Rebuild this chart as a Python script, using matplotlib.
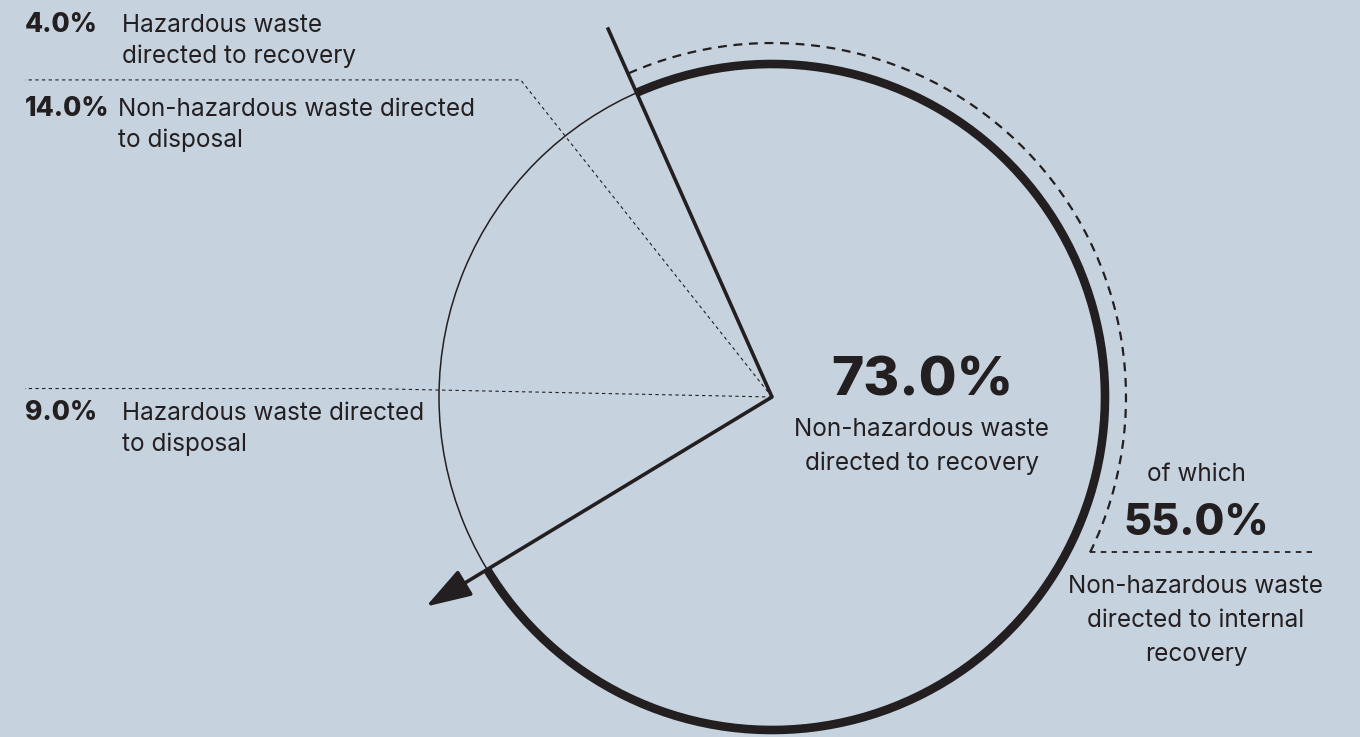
import numpy as np
import matplotlib.pyplot as plt
from matplotlib.patches import Arc, FancyArrowPatch

#%% Data

recovery_share  = 73.0      # non-hazardous waste directed to recovery
internal_share  = 55.0      # of which: internal recovery
other_shares    = [4.0, 14.0, 9.0]
other_labels    = [['Hazardous waste', 'directed to recovery'],
                   ['Non-hazardous waste directed', 'to disposal'],
                   ['Hazardous waste directed', 'to disposal']]
recovery_label  = ['Non-hazardous waste', 'directed to recovery']
internal_label  = ['Non-hazardous waste', 'directed to internal', 'recovery']

#%% Layout

W, H        = 1360, 737
bg          = '#c6d3df'
ink         = '#231f20'
font        = 'Inter'
body_size   = 17.5

cx, cy      = 772, H - 397
r           = 333
r_out       = 354          # dashed bracket radius
lead        = 1.215 * r    # length of radial leaders
start       = 114.0        # angle where the recovery arc starts (deg)

fig = plt.figure(figsize=(W / 100, H / 100), dpi=100, facecolor=bg)
ax = fig.add_axes([0, 0, 1, 1])
ax.set_xlim(0, W)
ax.set_ylim(0, H)
ax.set_aspect('equal')
ax.axis('off')
ax.set_facecolor(bg)

def pt(angle, dist):
    a = np.radians(angle)
    return cx + dist * np.cos(a), cy + dist * np.sin(a)

# thin base circle and thick recovery arc (clockwise from start)
rec_span = recovery_share / 100 * 360
ax.add_patch(Arc((cx, cy), 2 * r, 2 * r, theta1=0, theta2=360, lw=1.1, color=ink))
ax.add_patch(Arc((cx, cy), 2 * r, 2 * r, theta1=start - rec_span, theta2=start,
                 lw=6.2, color=ink, capstyle='butt'))

# dashed bracket for the internal recovery part
int_span = internal_share / 100 * rec_span
gap = 4.5
ax.add_patch(Arc((cx, cy), 2 * r_out, 2 * r_out, theta1=start - int_span + gap,
                 theta2=start, lw=1.6, color=ink, linestyle=(0, (4, 3))))
ex, ey = pt(start - int_span + gap, r_out)
ax.plot([ex, 1312], [ey, ey], color=ink, lw=1.3, linestyle=(0, (3, 3)))

# solid pointer at the start of the recovery arc
px, py = pt(start, lead)
ax.plot([cx, px], [cy, py], color=ink, lw=2.6, solid_capstyle='butt')

# arrow at the end of the recovery arc
end = start - rec_span
axx, ayy = pt(end, lead)
ax.add_patch(FancyArrowPatch((cx, cy), (axx, ayy), arrowstyle='-|>,head_length=28,head_width=9',
                             mutation_scale=1, lw=2.6, color=ink, shrinkA=0, shrinkB=0))

# dashed leaders at the boundaries between the smaller shares
bounds = start + np.cumsum(other_shares) / 100 * 360
for b in bounds[:-1]:
    bx, by = pt(b, lead)
    ax.plot([cx, bx, 25], [cy, by, by], color=ink, lw=0.8, linestyle=(0, (3, 3)))

#%% Labels

label_base = [H - 32, H - 116, H - 420]
label_x    = [122, 118, 122]
for share, lines, yb, tx in zip(other_shares, other_labels, label_base, label_x):
    ax.text(25, yb, '%.1f%%' % share, fontsize=19, fontweight='heavy', color=ink,
            family=font, va='baseline', ha='left')
    for i, line in enumerate(lines):
        ax.text(tx, yb - 31 * i, line, fontsize=body_size, color=ink, family=font,
                va='baseline', ha='left')

ax.text(922, H - 395, '%.1f%%' % recovery_share, fontsize=39.5, fontweight='heavy',
        color=ink, family=font, va='baseline', ha='center')
for i, line in enumerate(recovery_label):
    ax.text(922, H - 436 - 34 * i, line, fontsize=body_size, color=ink, family=font,
            va='baseline', ha='center')

ax.text(1196, H - 481, 'of which', fontsize=body_size, color=ink, family=font,
        va='baseline', ha='center')
ax.text(1196, H - 535, '%.1f%%' % internal_share, fontsize=31, fontweight='heavy',
        color=ink, family=font, va='baseline', ha='center')
for i, line in enumerate(internal_label):
    ax.text(1196, H - 593 - 34 * i, line, fontsize=body_size, color=ink, family=font,
            va='baseline', ha='center')

plt.savefig('out.png', dpi=100, facecolor=bg)
